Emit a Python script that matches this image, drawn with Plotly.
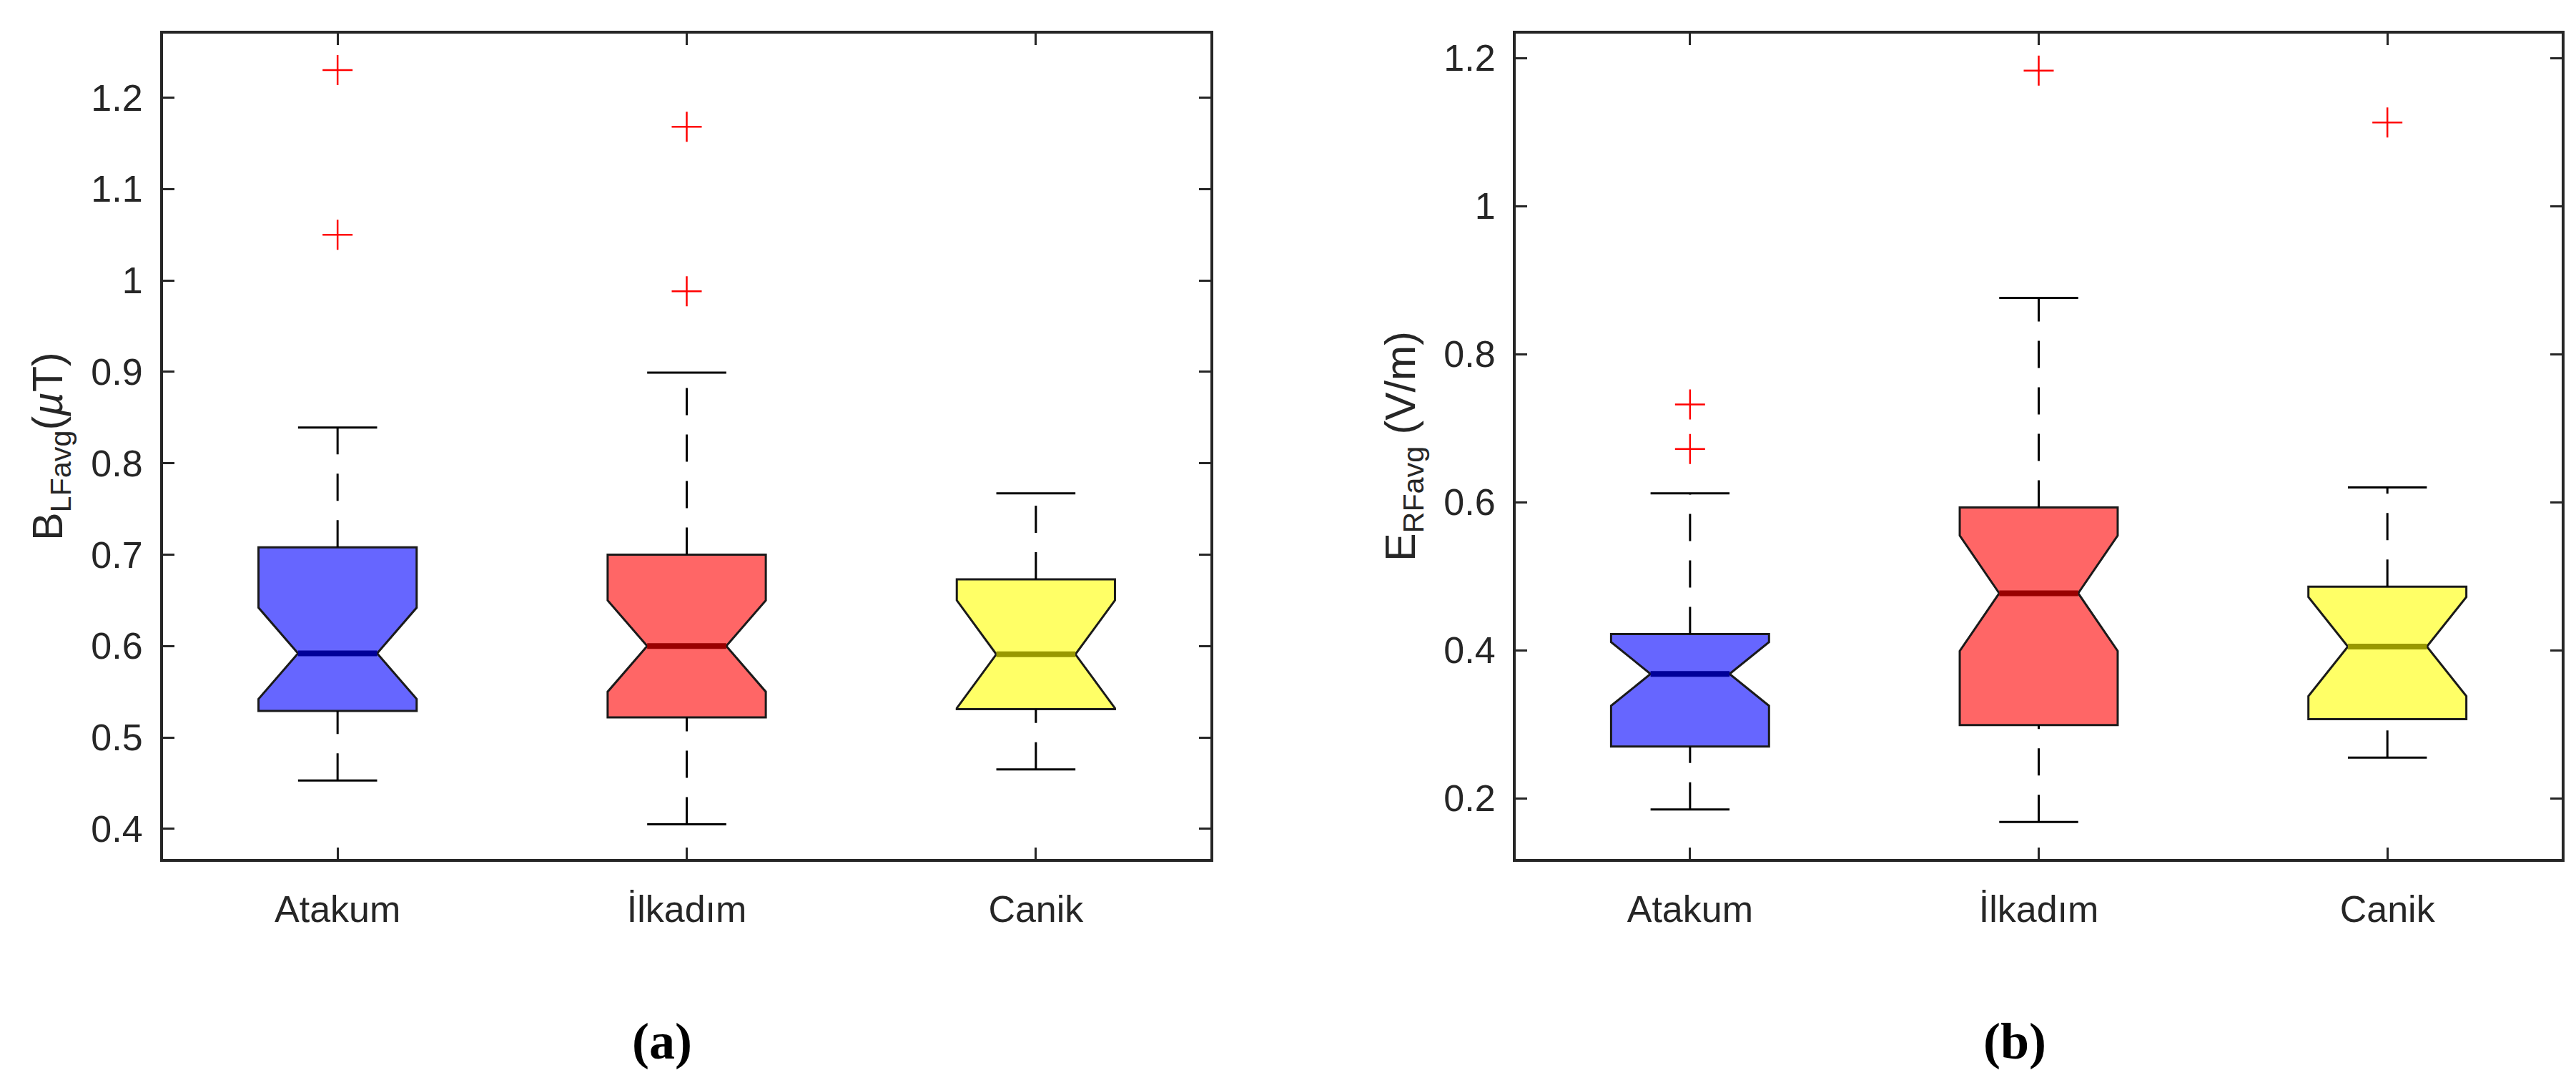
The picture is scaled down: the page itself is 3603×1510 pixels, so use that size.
import plotly.graph_objects as go

# District names (x categories)
districts = ["Atakum", "İlkadım", "Canik"]

# Panel (a): B_LFavg (uT) box statistics
b_q1 = [0.529, 0.522, 0.531]
b_median = [0.592, 0.600, 0.591]
b_q3 = [0.708, 0.700, 0.673]
b_notch = [0.050, 0.050, 0.059]
b_whisk_low = [0.453, 0.405, 0.465]
b_whisk_high = [0.839, 0.899, 0.767]
b_outliers = [[1.230, 1.050], [1.168, 0.988], []]

# Panel (b): E_RFavg (V/m) box statistics
e_q1 = [0.270, 0.299, 0.307]
e_median = [0.368, 0.477, 0.405]
e_q3 = [0.422, 0.593, 0.486]
e_notch = [0.043, 0.078, 0.067]
e_whisk_low = [0.185, 0.168, 0.255]
e_whisk_high = [0.612, 0.876, 0.620]
e_outliers = [[0.732, 0.672], [1.183], [1.113]]

# Styling
fill_cols = ["#6666FF", "#FF6666", "#FFFF66"]
median_cols = ["#000099", "#990000", "#999900"]
axis_col = "#262626"
box_w = 0.453
cap_w = box_w / 2
med_w = box_w / 2

fig = go.Figure()


def add_panel(xa, ya, q1, med, q3, notch, lo, hi, outs):
    for i, name in enumerate(districts):
        pos = i + 1
        # notched box (whiskers drawn separately so they can be dashed)
        fig.add_trace(go.Box(
            x=[pos], q1=[q1[i]], median=[med[i]], q3=[q3[i]],
            lowerfence=[q1[i]], upperfence=[q3[i]], notchspan=[notch[i]],
            notched=True, notchwidth=0.25, width=box_w,
            fillcolor=fill_cols[i], line=dict(color="#1a1a1a", width=3),
            boxpoints=False, hoverinfo="skip", showlegend=False,
            xaxis=xa, yaxis=ya,
        ))
        # dashed whiskers
        fig.add_trace(go.Scatter(
            x=[pos, pos, None, pos, pos],
            y=[q3[i], hi[i], None, lo[i], q1[i]],
            mode="lines", line=dict(color="black", width=3, dash="38px,27px"),
            hoverinfo="skip", showlegend=False, xaxis=xa, yaxis=ya,
        ))
        # whisker caps
        fig.add_trace(go.Scatter(
            x=[pos - cap_w / 2, pos + cap_w / 2, None, pos - cap_w / 2, pos + cap_w / 2],
            y=[hi[i], hi[i], None, lo[i], lo[i]],
            mode="lines", line=dict(color="black", width=3),
            hoverinfo="skip", showlegend=False, xaxis=xa, yaxis=ya,
        ))
        # median line
        fig.add_trace(go.Scatter(
            x=[pos - med_w / 2, pos + med_w / 2], y=[med[i], med[i]],
            mode="lines", line=dict(color=median_cols[i], width=8),
            hoverinfo="skip", showlegend=False, xaxis=xa, yaxis=ya,
        ))
        # outliers
        if outs[i]:
            fig.add_trace(go.Scatter(
                x=[pos] * len(outs[i]), y=outs[i], mode="markers",
                marker=dict(symbol="cross-thin", size=30, color="red",
                            line=dict(color="red", width=2.5)),
                hoverinfo="skip", showlegend=False, xaxis=xa, yaxis=ya,
            ))


add_panel("x", "y", b_q1, b_median, b_q3, b_notch, b_whisk_low, b_whisk_high, b_outliers)
add_panel("x2", "y2", e_q1, e_median, e_q3, e_notch, e_whisk_low, e_whisk_high, e_outliers)

tick_font = dict(family="Liberation Sans, Arial, sans-serif", size=52, color=axis_col)
title_font = dict(family="Liberation Sans, Arial, sans-serif", size=59, color=axis_col)

common = dict(
    showline=True, linecolor=axis_col, linewidth=4, mirror="ticks",
    ticks="inside", ticklen=16, tickwidth=3, tickcolor=axis_col,
    showgrid=False, zeroline=False, tickfont=tick_font,
)

fig.update_layout(
    width=3603, height=1510,
    margin=dict(l=0, r=0, t=0, b=0),
    paper_bgcolor="white", plot_bgcolor="white",
    boxmode="overlay",
    xaxis=dict(domain=[0.06106, 0.46767], range=[0.5, 3.5], anchor="y",
               tickvals=[1, 2, 3], ticktext=districts, ticklabelstandoff=22, **common),
    yaxis=dict(domain=[0.2099, 0.9742], range=[0.367, 1.270], anchor="x",
               tick0=0.4, dtick=0.1, ticklabelstandoff=14,
               title=dict(text="B<sub>LFavg</sub>(<i>µ</i>T)", font=title_font, standoff=22),
               **common),
    xaxis2=dict(domain=[0.58618, 0.99223], range=[0.5, 3.5], anchor="y2",
                tickvals=[1, 2, 3], ticktext=districts, ticklabelstandoff=22, **common),
    yaxis2=dict(domain=[0.2099, 0.9742], range=[0.118, 1.233], anchor="x2",
                tick0=0.2, dtick=0.2, ticklabelstandoff=14,
                title=dict(text="E<sub>RFavg</sub> (V/m)", font=title_font, standoff=22),
                **common),
    annotations=[
        dict(text="<b>(a)</b>", x=918 / 3603, y=1 - 1448 / 1510, xref="paper", yref="paper",
             showarrow=False, xanchor="center", yanchor="middle",
             font=dict(family="Liberation Serif, Times New Roman, serif", size=72, color="black")),
        dict(text="<b>(b)</b>", x=2810 / 3603, y=1 - 1448 / 1510, xref="paper", yref="paper",
             showarrow=False, xanchor="center", yanchor="middle",
             font=dict(family="Liberation Serif, Times New Roman, serif", size=72, color="black")),
    ],
)

fig.write_html("out.html")
